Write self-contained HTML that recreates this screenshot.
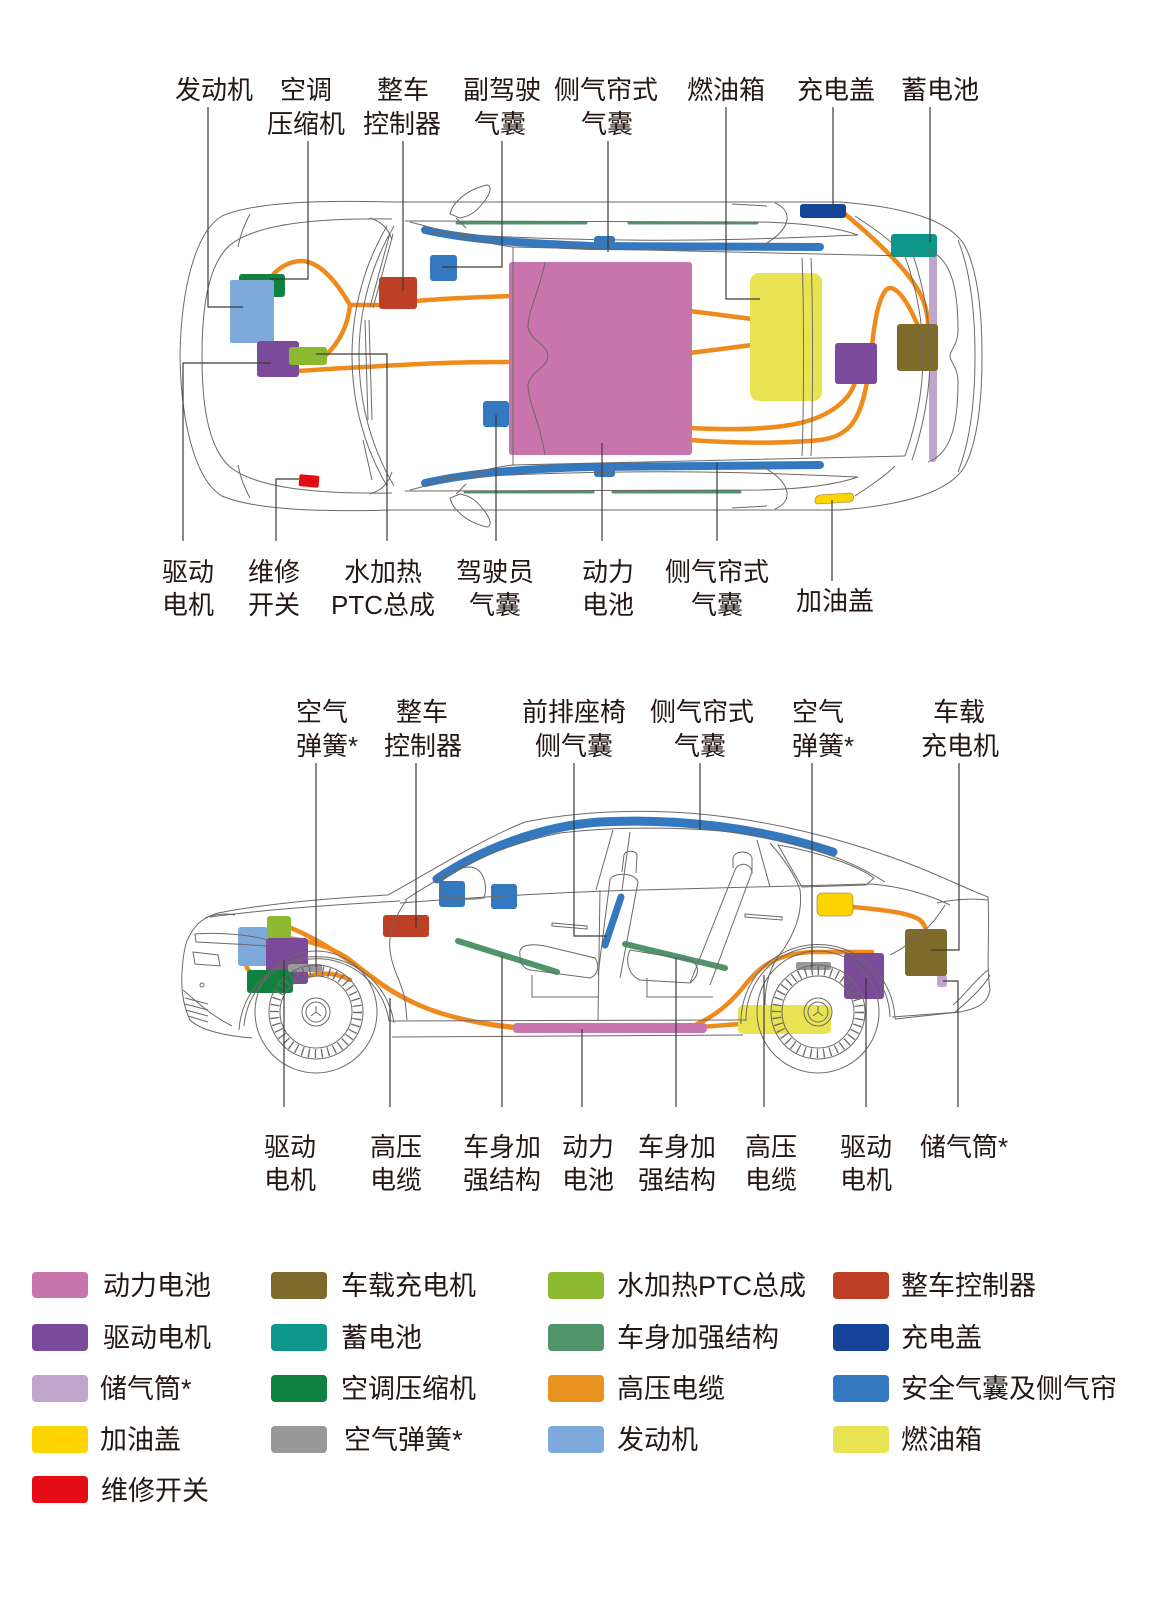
<!DOCTYPE html>
<html><head><meta charset="utf-8"><style>
html,body{margin:0;padding:0;background:#fff;}
svg{display:block;}
text{font-family:"Liberation Sans","Noto Sans CJK SC",sans-serif;fill:#231815;}
</style></head><body>
<svg width="1160" height="1599" viewBox="0 0 1160 1599" xmlns="http://www.w3.org/2000/svg">
<rect width="1160" height="1599" fill="#fff"/>

<!-- ============ TOP VIEW ============ -->
<g fill="none" stroke="#ef8a1d" stroke-width="4.5" stroke-linecap="round" stroke-linejoin="round">
<path d="M272,276 C280,266 292,261 301,261 C318,261 335,279 350,305 L382,305"/>
<path d="M350,305 C348,325 340,342 325,356"/>
<path d="M415,301 C450,298 480,297 512,296"/>
<path d="M298,371 C340,368 380,366 420,364 C460,362 490,362 512,362"/>
<path d="M690,311 L752,319"/>
<path d="M690,353 L752,345"/>
<path d="M690,428 C730,430 770,430 800,423 C830,416 850,400 855,382"/>
<path d="M690,440 C730,443 780,444 820,440 C850,436 860,420 867,382"/>
<path d="M872,345 C875,320 878,300 886,290 C893,283 905,295 918,326"/>
<path d="M845,214 C870,235 900,262 915,285 C925,300 928,315 928,326"/>
</g>
<g fill="none" stroke="#3478bf" stroke-width="8" stroke-linecap="round">
<path d="M425,230 C470,240 520,243 590,246 L820,247"/>
<path d="M425,483 C470,473 520,469 590,467 L820,465"/>
</g>
<rect x="594" y="236" width="21" height="9" rx="3" fill="#3478bf"/>
<rect x="594" y="467" width="21" height="10" rx="3" fill="#3478bf"/>
<g stroke="#4f946a" stroke-width="3" stroke-linecap="round">
<path d="M457,223 L586,223"/><path d="M629,223 L757,223"/>
<path d="M465,492 L593,492"/><path d="M613,492 L740,492"/>
</g>
<rect x="239" y="274" width="46" height="23" rx="3" fill="#0f823f"/>
<rect x="230" y="280" width="44" height="63" rx="2" fill="#7eaadb"/>
<rect x="257" y="341" width="42" height="36" rx="3" fill="#7c4a9a"/>
<rect x="289" y="347" width="38" height="18" rx="3" fill="#8cb92f"/>
<rect x="379" y="277" width="38" height="32" rx="3" fill="#bd3f25"/>
<rect x="430" y="255" width="27" height="26" rx="3" fill="#3478bf"/>
<rect x="483" y="401" width="26" height="26" rx="3" fill="#3478bf"/>
<rect x="299" y="475" width="20" height="12" rx="2" fill="#e60c16" transform="rotate(5 309 481)"/>
<rect x="509" y="262" width="183" height="193" rx="3" fill="#c874ad"/>
<rect x="750" y="273" width="72" height="128" rx="9" fill="#e9e354"/>
<rect x="835" y="343" width="42" height="41" rx="3" fill="#7c4a9a"/>
<rect x="929" y="250" width="8" height="212" rx="4" fill="#c0a6cc"/>
<rect x="897" y="324" width="41" height="47" rx="3" fill="#7e6a2a"/>
<rect x="891" y="234" width="46" height="23" rx="3" fill="#0c978a"/>
<rect x="800" y="204" width="46" height="14" rx="3" fill="#154499"/>
<path d="M820,495 L850,493 C855,493 855,501 850,502 L818,504 C813,504 814,496 820,495 Z" fill="#fdd300" stroke="#8a7a40" stroke-width="0.6"/>

<g fill="none" stroke="#6e6866" stroke-width="1">
<path d="M390,202 C320,200 255,202 222,216 C195,232 181,290 180,356 C181,422 195,480 222,496 C255,510 320,512 390,510 L840,510 C905,505 950,492 965,466 C978,440 982,400 982,356 C982,312 978,272 965,246 C950,220 905,207 840,202 Z"/>
<path d="M392,219 C320,218 258,223 230,245 C210,263 202,300 202,356 C202,412 210,449 230,467 C258,489 320,494 392,493"/>
<path d="M250,214 C244,225 240,236 238,247"/><path d="M250,498 C244,487 240,476 238,465"/>
<path d="M370,218 C382,222 388,228 392,240"/><path d="M370,494 C382,490 388,484 392,472"/>
<path d="M387,226 C364,265 352,310 352,356 C352,402 364,447 387,486"/>
<path d="M394,226 C371,265 359,310 359,356 C359,402 371,447 394,486"/>
<path d="M390,233 L370,307 M393,234 L373,308"/>
<path d="M365,320 L368,420 M369,320 L372,420"/>
<path d="M363,440 L372,480"/>
<path d="M410,222 C450,232 480,243 513,247 L905,256"/>
<path d="M410,490 C450,480 480,469 513,465 L905,456"/>
<path d="M405,221 L760,222 C800,223 835,227 858,235"/>
<path d="M405,491 L760,490 C800,489 835,485 858,477"/>
<path d="M430,232 C500,238 600,241 700,240 C780,239 830,236 858,235"/>
<path d="M430,480 C500,474 600,471 700,472 C780,473 830,476 858,477"/>
<path d="M775,203 C792,210 794,228 762,246"/><path d="M775,509 C792,502 794,484 762,466"/>
<path d="M905,256 C917,290 923,325 923,356 C923,387 917,422 905,456"/>
<path d="M912,252 C925,290 930,325 930,356 C930,387 925,422 912,460"/>
<path d="M928,250 C950,258 958,285 958,330 C958,345 950,350 950,356 C950,362 958,367 958,382 C958,427 950,454 928,462"/>
<path d="M958,240 C970,270 975,310 975,356 C975,402 970,442 958,472"/>
<path d="M802,258 C804,300 804,410 802,456"/><path d="M811,258 C813,300 813,410 811,456"/>
<path d="M545,262 C540,290 528,310 528,327 C530,340 548,345 548,356 C548,367 530,372 528,385 C528,402 540,422 545,455"/>
<path d="M513,247 L513,465"/>
<path d="M732,204 L767,206"/><path d="M732,508 L767,506"/>
<path d="M450,214 C452,204 465,190 487,185 C493,186 490,195 482,204 C476,212 470,216 460,218 Z"/>
<path d="M450,498 C452,508 465,522 487,527 C493,526 490,517 482,508 C476,500 470,496 460,494 Z"/>
<path d="M456,218 L466,228"/><path d="M456,494 L466,484"/>
<path d="M855,216 C870,226 885,236 895,246"/><path d="M855,496 C870,486 885,476 895,466"/>
</g>

<!-- ============ SIDE VIEW ============ -->
<g fill="none" stroke="#ef8a1d" stroke-width="4.5" stroke-linecap="round" stroke-linejoin="round">
<path d="M291,928 C320,940 350,960 385,987 C420,1010 460,1022 515,1027"/>
<path d="M250,972 C240,960 242,942 258,938 C290,934 330,945 350,960 C375,980 400,1000 440,1013 C470,1022 495,1026 515,1028"/>
<path d="M305,977 C320,972 335,972 350,980"/>
<path d="M697,1024 C715,1016 730,1004 745,985 C760,966 775,955 810,952 L872,952"/>
<path d="M700,1027 L740,1024"/>
<path d="M853,907 C885,910 910,913 920,920 C925,925 926,928 925,932"/>
</g>
<path d="M437,879 C480,850 540,826 600,822 C680,818 760,828 833,852" fill="none" stroke="#3478bf" stroke-width="9" stroke-linecap="round"/>
<path d="M621,897 L605,945" stroke="#3478bf" stroke-width="7" stroke-linecap="round"/>
<g stroke="#4f946a" stroke-width="6" stroke-linecap="round">
<path d="M458,941 L557,972"/><path d="M625,944 L725,968"/>
</g>
<rect x="513" y="1023" width="194" height="10" rx="4" fill="#c874ad"/>
<rect x="238" y="927" width="30" height="39" rx="3" fill="#7eaadb"/>
<rect x="267" y="916" width="24" height="22" rx="3" fill="#8cb92f"/>
<rect x="266" y="938" width="42" height="46" rx="3" fill="#7c4a9a"/>
<rect x="247" y="970" width="46" height="23" rx="3" fill="#0f823f"/>
<rect x="288" y="964" width="34" height="8" rx="2" fill="#999"/>
<rect x="383" y="915" width="46" height="22" rx="3" fill="#bd3f25"/>
<rect x="439" y="881" width="26" height="26" rx="3" fill="#3478bf"/>
<rect x="491" y="884" width="26" height="25" rx="3" fill="#3478bf"/>
<rect x="738" y="1005" width="93" height="29" rx="5" fill="#e9e354"/>
<rect x="796" y="962" width="35" height="8" rx="2" fill="#999"/>
<rect x="844" y="953" width="40" height="46" rx="3" fill="#7c4a9a"/>
<rect x="937" y="975" width="10" height="12" rx="3" fill="#c0a6cc"/>
<rect x="905" y="929" width="42" height="47" rx="3" fill="#7e6a2a"/>
<rect x="817" y="893" width="36" height="23" rx="5" fill="#fdd300" stroke="#8a7a40" stroke-width="0.6"/>

<g fill="none" stroke="#6e6866" stroke-width="1">
<path d="M252,1038 C225,1036 200,1030 190,1020 C183,1005 181,990 182,972 C183,955 185,942 190,935 C196,923 205,917 218,913 C270,903 330,898 388,895 C430,872 480,840 525,822 C570,813 620,810 670,812 C760,816 850,840 920,868 C945,878 965,888 988,897 C990,930 986,965 990,990 C988,1002 980,1008 960,1012 L892,1017"/>
<path d="M244,1026 A73 73 0 0 1 389,1021"/>
<path d="M239,1030 A78 78 0 0 1 394,1023"/>
<path d="M746,1021 A72 72 0 0 1 890,1017"/>
<path d="M741,1024 A77 77 0 0 1 895,1019"/>
<path d="M389,1021 L746,1020"/><path d="M392,1037 L743,1035"/>
<path d="M895,1019 L960,1012"/>
<path d="M210,917 C260,910 330,905 400,901"/>
<path d="M400,903 C480,897 560,892 640,890 C740,888 820,885 870,884 C900,886 930,895 950,905"/>
<path d="M405,900 C450,870 500,845 560,833 C620,826 700,826 760,836 C820,848 860,866 885,882"/>
<path d="M613,830 L596,890"/><path d="M630,832 L622,890"/>
<path d="M600,890 L598,1020"/>
<path d="M407,900 C395,915 388,935 390,950 C392,970 403,985 405,1000 L407,1020"/>
<path d="M757,840 L770,887"/>
<path d="M770,843 C785,860 795,875 800,890 C802,905 800,925 783,950 C770,965 765,985 765,1005"/>
<path d="M778,845 C820,852 858,866 874,878 L866,885 L802,887 Z"/>
<path d="M552,923 L587,926 L587,929 L552,926 Z"/>
<path d="M745,914 L782,917 L782,920 L745,917 Z"/>
<path d="M440,895 C438,878 452,868 470,867 C484,868 488,886 484,898 C470,900 452,900 440,895 Z"/>
<path d="M195,934 C220,932 250,935 268,940 L266,946 C240,944 215,943 196,942 Z"/>
<path d="M193,952 L218,955 L220,966 L195,964 Z"/>
<circle cx="202" cy="985" r="2"/>
<path d="M185,998 L208,1004 M185,1004 L208,1010 M186,1010 L208,1016 M188,1016 L208,1022"/>
<path d="M183,990 C195,1000 210,1015 232,1026"/>
<path d="M205,918 C215,914 225,913 235,915"/>
<path d="M520,955 C518,945 530,943 545,946 L595,958 C600,965 598,975 590,978 L530,970 C522,968 520,962 520,955 Z"/>
<path d="M532,975 L532,997 L598,997"/>
<path d="M598,975 L610,880 C612,872 635,872 638,882 L620,978"/>
<path d="M622,872 L624,855 C625,850 636,850 637,855 L636,873"/>
<path d="M630,950 C625,960 628,975 640,980 L690,983 C700,975 700,965 690,960 Z"/>
<path d="M647,978 L647,997 L713,997"/>
<path d="M690,983 L735,870 C738,862 750,862 752,872 L710,985"/>
<path d="M733,868 L733,858 C735,850 750,850 752,858 L752,874"/>
<path d="M937,903 C950,900 970,898 988,900"/>
<path d="M988,970 C975,980 965,995 953,1005"/>
<path d="M890,955 C910,945 930,930 945,905"/>
<path d="M955,1012 C970,1000 985,985 990,975"/>
</g>
<g fill="none" stroke="#6e6866" stroke-width="1">
<g transform="translate(316,1012)">
<circle r="61"/><circle r="47"/><circle r="36"/>
<circle r="41.5" stroke-width="9" stroke-dasharray="1.3 5.2"/>
<circle r="14"/><circle r="10"/>
<path d="M0,-6 L0,0 L-5,4 M0,0 L5,4"/>
</g>
<g transform="translate(818,1012)">
<circle r="61"/><circle r="47"/><circle r="36"/>
<circle r="41.5" stroke-width="9" stroke-dasharray="1.3 5.2"/>
<circle r="14"/><circle r="10"/>
<path d="M0,-6 L0,0 L-5,4 M0,0 L5,4"/>
</g>
</g>

<g fill="none" stroke="#3e3a39" stroke-width="1.2">
<path d="M208,107 V307 H243"/>
<path d="M308,141 V279 H270"/>
<path d="M403,141 V291"/>
<path d="M502,141 V267 H442"/>
<path d="M608,141 V252"/>
<path d="M726,107 V299 H760"/>
<path d="M833,107 V210"/>
<path d="M930,107 V242"/>
<path d="M271,363 H183 V541"/>
<path d="M299,479 H276 V541"/>
<path d="M316,354 H387 V541"/>
<path d="M496,415 V541"/>
<path d="M602,443 V541"/>
<path d="M717,463 V541"/>
<path d="M832,500 V581"/>
<path d="M316,763 V967"/>
<path d="M416,763 V928"/>
<path d="M574,763 V936 H607"/>
<path d="M700,763 V830"/>
<path d="M812,763 V967"/>
<path d="M959,763 V950 H931"/>
<path d="M284,960 V1107"/>
<path d="M390,998 V1107"/>
<path d="M502,956 V1107"/>
<path d="M582,1029 V1107"/>
<path d="M676,958 V1107"/>
<path d="M764,975 V1107"/>
<path d="M866,978 V1107"/>
<path d="M943,981 H958 V1107"/>
</g>

<g font-size="26" text-anchor="middle">
<text x="214" y="99">发动机</text>
<text x="306" y="99">空调</text><text x="306" y="133">压缩机</text>
<text x="403" y="99">整车</text><text x="402" y="133">控制器</text>
<text x="502" y="99">副驾驶</text><text x="500" y="133">气囊</text>
<text x="606" y="99">侧气帘式</text><text x="607" y="133">气囊</text>
<text x="726" y="99">燃油箱</text>
<text x="836" y="99">充电盖</text>
<text x="940" y="99">蓄电池</text>

<text x="188" y="581">驱动</text><text x="188" y="614">电机</text>
<text x="274" y="581">维修</text><text x="274" y="614">开关</text>
<text x="383" y="581">水加热</text><text x="383" y="614">PTC总成</text>
<text x="495" y="581">驾驶员</text><text x="495" y="614">气囊</text>
<text x="608" y="581">动力</text><text x="608" y="614">电池</text>
<text x="717" y="581">侧气帘式</text><text x="717" y="614">气囊</text>
<text x="835" y="610">加油盖</text>

<text x="422" y="721">整车</text><text x="423" y="755">控制器</text>
<text x="574" y="721">前排座椅</text><text x="574" y="755">侧气囊</text>
<text x="702" y="721">侧气帘式</text><text x="700" y="755">气囊</text>
<text x="959" y="721">车载</text><text x="960" y="755">充电机</text>

<text x="290" y="1156">驱动</text><text x="290" y="1189">电机</text>
<text x="396" y="1156">高压</text><text x="396" y="1189">电缆</text>
<text x="502" y="1156">车身加</text><text x="502" y="1189">强结构</text>
<text x="588" y="1156">动力</text><text x="588" y="1189">电池</text>
<text x="677" y="1156">车身加</text><text x="677" y="1189">强结构</text>
<text x="771" y="1156">高压</text><text x="771" y="1189">电缆</text>
<text x="866" y="1156">驱动</text><text x="866" y="1189">电机</text>
</g>
<g font-size="26">
<text x="296" y="721">空气</text><text x="296" y="755">弹簧*</text>
<text x="792" y="721">空气</text><text x="792" y="755">弹簧*</text>
<text x="920" y="1156">储气筒*</text>
</g>

<g>
<rect x="32" y="1272" width="56" height="26" rx="4" fill="#c874ad"/>
<rect x="32" y="1324" width="56" height="27" rx="4" fill="#7c4a9a"/>
<rect x="32" y="1375" width="56" height="27" rx="4" fill="#c0a6cc"/>
<rect x="32" y="1426" width="56" height="27" rx="4" fill="#fdd300"/>
<rect x="32" y="1476" width="56" height="27" rx="4" fill="#e60c16"/>
<rect x="271" y="1272" width="56" height="27" rx="4" fill="#7e6a2a"/>
<rect x="271" y="1324" width="56" height="27" rx="4" fill="#0c978a"/>
<rect x="271" y="1375" width="56" height="27" rx="4" fill="#0f823f"/>
<rect x="271" y="1426" width="56" height="27" rx="4" fill="#999"/>
<rect x="548" y="1272" width="56" height="27" rx="4" fill="#8cb92f"/>
<rect x="548" y="1324" width="56" height="27" rx="4" fill="#4f946a"/>
<rect x="548" y="1375" width="56" height="27" rx="4" fill="#e8931f"/>
<rect x="548" y="1426" width="56" height="27" rx="4" fill="#7eaadb"/>
<rect x="833" y="1272" width="56" height="27" rx="4" fill="#bd3f25"/>
<rect x="833" y="1324" width="56" height="27" rx="4" fill="#154499"/>
<rect x="833" y="1375" width="56" height="27" rx="4" fill="#3478bf"/>
<rect x="833" y="1426" width="56" height="27" rx="4" fill="#e9e354"/>
</g>
<g font-size="27">
<text x="103" y="1295">动力电池</text>
<text x="103" y="1347">驱动电机</text>
<text x="100" y="1398">储气筒*</text>
<text x="100" y="1449">加油盖</text>
<text x="101" y="1500">维修开关</text>
<text x="341" y="1295">车载充电机</text>
<text x="341" y="1347">蓄电池</text>
<text x="341" y="1398">空调压缩机</text>
<text x="344" y="1449">空气弹簧*</text>
<text x="617" y="1295">水加热PTC总成</text>
<text x="617" y="1347">车身加强结构</text>
<text x="617" y="1398">高压电缆</text>
<text x="617" y="1449">发动机</text>
<text x="901" y="1295">整车控制器</text>
<text x="901" y="1347">充电盖</text>
<text x="901" y="1398">安全气囊及侧气帘</text>
<text x="901" y="1449">燃油箱</text>
</g>
</svg>
</body></html>
